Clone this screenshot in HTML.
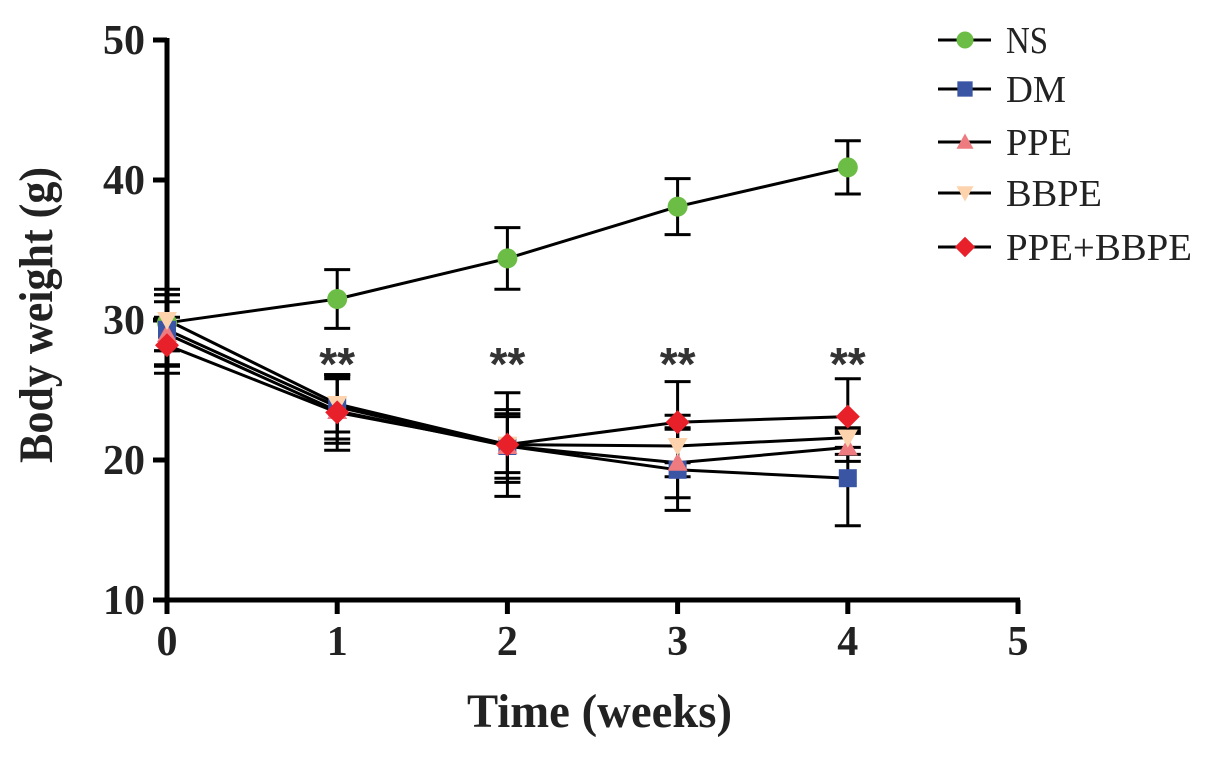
<!DOCTYPE html>
<html><head><meta charset="utf-8"><style>
html,body{margin:0;padding:0;background:#fff;}
svg{display:block;font-family:"Liberation Serif",serif;}
</style></head><body>
<svg id="chart" width="1205" height="761" viewBox="0 0 1205 761">
<g id="axes"></g>
<g id="series"></g>
<g id="legend"></g>
</svg>
<script>
const weeks = [0, 1, 2, 3, 4];
const xTicks = [0, 1, 2, 3, 4, 5];
const yTicks = [10, 20, 30, 40, 50];
const seriesNames = ["NS", "DM", "PPE", "BBPE", "PPE+BBPE"];
const nsValues = [29.8, 31.5, 34.4, 38.1, 40.9];
const nsErrors = [2.0, 2.1, 2.2, 2.0, 1.9];
const dmValues = [29.3, 23.8, 21.0, 19.3, 18.7];
const dmErrors = [2.5, 2.3, 2.6, 2.9, 3.4];
const ppeValues = [29.0, 23.5, 21.0, 19.8, 20.9];
const ppeErrors = [2.3, 2.3, 2.3, 2.5, 1.0];
const bbpeValues = [30.0, 24.0, 21.1, 21.0, 21.6];
const bbpeErrors = [2.2, 2.0, 2.0, 2.2, 0.7];
const comboValues = [28.2, 23.4, 21.1, 22.7, 23.1];
const comboErrors = [2.0, 2.7, 3.7, 2.9, 2.7];
const sigLabels = ["", "**", "**", "**", "**"];

const NS = "http://www.w3.org/2000/svg";
const X0 = 167, X1 = 1018, Y0 = 600, Y1 = 40;
function xs(v){ return X0 + (v - 0) / 5 * (X1 - X0); }
function ys(v){ return Y0 - (v - 10) / 40 * (Y0 - Y1); }
function mk(tag, attrs, parent){
  const e = document.createElementNS(NS, tag);
  for (const k in attrs) e.setAttribute(k, attrs[k]);
  parent.appendChild(e); return e;
}
const axes = document.getElementById('axes');
const ser = document.getElementById('series');
const leg = document.getElementById('legend');

let el = mk('line', {x1:X0, y1:Y1-2, x2:X0, y2:Y0+2, stroke:'#000', 'stroke-width':5}, axes);


el = mk('line', {x1:X0-2, y1:Y0, x2:X1+2, y2:Y0, stroke:'#000', 'stroke-width':5}, axes);



yTicks.forEach(t => {
  const y = ys(t);
  const tk = mk('line', {x1:X0-14, y1:y, x2:X0, y2:y, stroke:'#000', 'stroke-width':5}, axes);
  
  
  const tx = mk('text', {x:X0-22, y:y+14, 'text-anchor':'end', 'font-size':42, 'font-weight':'bold', fill:'#222'}, axes);
  tx.textContent = t;
  
  
});
xTicks.forEach(t => {
  const x = xs(t);
  const tk = mk('line', {x1:x, y1:Y0, x2:x, y2:Y0+14, stroke:'#000', 'stroke-width':5}, axes);
  
  
  const tx = mk('text', {x:x, y:Y0+55, 'text-anchor':'middle', 'font-size':42, 'font-weight':'bold', fill:'#222'}, axes);
  tx.textContent = t;
  
  
});
el = mk('text', {x:467, y:727, 'font-size':48, 'font-weight':'bold', fill:'#222', textLength:265, lengthAdjust:'spacingAndGlyphs'}, axes);
el.textContent = 'Time (weeks)';


el = mk('text', {x:-148, y:0, 'font-size':48, 'font-weight':'bold', fill:'#222', textLength:296, lengthAdjust:'spacingAndGlyphs', transform:'translate(52,315) rotate(-90)'}, axes);
el.textContent = 'Body weight (g)';



function marker(type, cx, cy, parent, scale){
  const s = scale || 1; let m;
  if (type === 'circle') m = mk('circle', {cx, cy, r:10*s, fill:'#6cbd45'}, parent);
  else if (type === 'square') m = mk('rect', {x:cx-9*s, y:cy-9*s, width:18*s, height:18*s, fill:'#3a55a4'}, parent);
  else if (type === 'tri') m = mk('polygon', {points:`${cx},${cy-10*s} ${cx-10*s},${cy+8*s} ${cx+10*s},${cy+8*s}`, fill:'#ee7b80'}, parent);
  else if (type === 'itri') m = mk('polygon', {points:`${cx},${cy+10*s} ${cx-10*s},${cy-8*s} ${cx+10*s},${cy-8*s}`, fill:'#fcd3ad'}, parent);
  else m = mk('polygon', {points:`${cx},${cy-12*s} ${cx+12*s},${cy} ${cx},${cy+12*s} ${cx-12*s},${cy}`, fill:'#e8202a'}, parent);
  return m;
}
const allSeries = [
  {name:seriesNames[0], vals:nsValues, errs:nsErrors, type:'circle', key:'ns'},
  {name:seriesNames[1], vals:dmValues, errs:dmErrors, type:'square', key:'dm'},
  {name:seriesNames[2], vals:ppeValues, errs:ppeErrors, type:'tri', key:'ppe'},
  {name:seriesNames[3], vals:bbpeValues, errs:bbpeErrors, type:'itri', key:'bbpe'},
  {name:seriesNames[4], vals:comboValues, errs:comboErrors, type:'diamond', key:'ppe-bbpe'}
];
allSeries.forEach(s => {
  const g = mk('g', {}, ser);
  
  
  s.vals.forEach((v, i) => {
    const x = xs(weeks[i]), ya = ys(v + s.errs[i]), yb = ys(v - s.errs[i]);
    const eb = mk('path', {d:`M${x},${ya}V${yb}M${x-13},${ya}H${x+13}M${x-13},${yb}H${x+13}`, stroke:'#000', 'stroke-width':3, fill:'none'}, g);
    
    
  });
  const pts = s.vals.map((v, i) => xs(weeks[i]) + ',' + ys(v)).join(' ');
  const ln = mk('polyline', {points:pts, stroke:'#000', 'stroke-width':3, fill:'none'}, g);
  
  
});
allSeries.forEach(s => {
  s.vals.forEach((v, i) => {
    const m = marker(s.type, xs(weeks[i]), ys(v), ser);
    
    
  });
});
sigLabels.forEach((lab, i) => {
  if (!lab) return;
  const t = mk('text', {x:xs(weeks[i]), y:380, 'text-anchor':'middle', 'font-size':46, 'font-weight':'bold', fill:'#333', 'font-family':'Liberation Sans, sans-serif'}, ser);
  t.textContent = lab;
  
  
});
const legY = [40, 89, 142, 193, 247];
const legLen = [42, 60, 66, 96, 186];
allSeries.forEach((s, i) => {
  const g = mk('g', {}, leg);
  
  
  mk('line', {x1:938, y1:legY[i], x2:991, y2:legY[i], stroke:'#000', 'stroke-width':3}, g);
  marker(s.type, 965, legY[i], g, 0.85);
  const t = mk('text', {x:1006, y:legY[i]+13, 'font-size':38, fill:'#222', textLength:legLen[i], lengthAdjust:'spacingAndGlyphs'}, g);
  t.textContent = s.name;
});
</script>
</body></html>
